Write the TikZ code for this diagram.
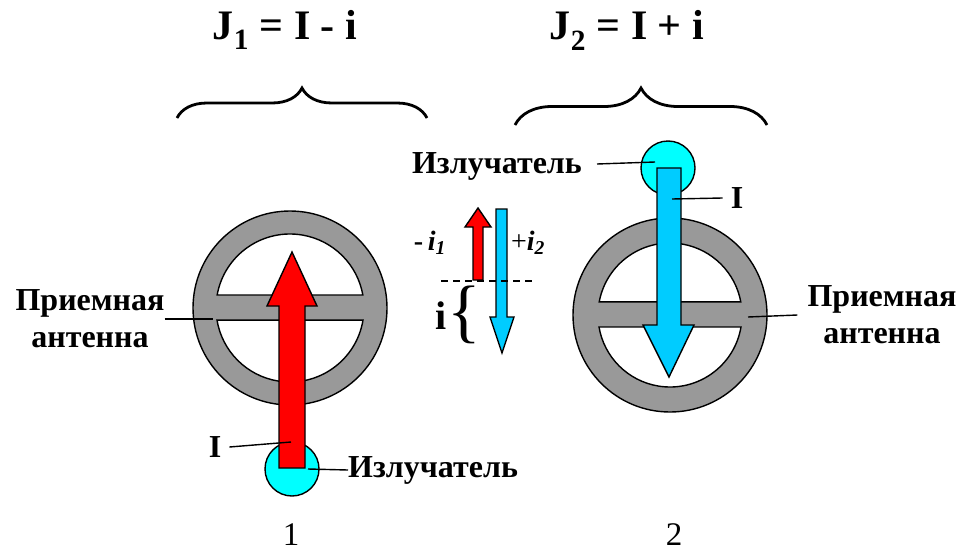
\documentclass[tikz,border=0pt]{standalone}
\usepackage{fontspec}
\setmainfont{Liberation Serif}
\usetikzlibrary{decorations.pathreplacing}
\definecolor{ringgray}{RGB}{153,153,153}
\definecolor{emitcyan}{RGB}{0,255,255}
\definecolor{flowblue}{RGB}{0,204,255}
\definecolor{flowred}{RGB}{255,0,0}
\tikzset{
  lbl/.style={font=\fontsize{32}{37}\selectfont\bfseries, align=center, inner sep=0pt},
  ttl/.style={font=\fontsize{42}{46}\selectfont\bfseries, inner sep=0pt},
  num/.style={font=\fontsize{33}{37}\selectfont, inner sep=0pt},
  lead/.style={black, line width=1.4pt},
  outl/.style={draw=black, line width=1.4pt},
  topbrace/.style={decorate, decoration={brace, amplitude=#1}, line width=2.8pt},
}

\begin{document}
\begin{tikzpicture}[x=1pt, y=-1pt]
  \useasboundingbox (0,0) rectangle (965,554);

  % Titles and top braces
  \node[ttl] (t1) at (285,30) {J\textsubscript{1} = I - i};
  \node[ttl] (t2) at (627,30) {J\textsubscript{2} = I + i};
  \draw[topbrace=30] (177,118) -- (427,118);
  \draw[topbrace=37] (515,125) -- (767,125);

  % Figure 1: receiving antenna
  \fill[ringgray, outl] (290,308) circle[radius=97];
  \fill[white, outl] (290,308) ++(190.1:74) arc[start angle=190.1, end angle=349.9, radius=74] -- cycle;
  \fill[white, outl] (290,308) ++(9.4:74) arc[start angle=9.4, end angle=170.6, radius=74] -- cycle;
  % emitter and current arrow
  \fill[emitcyan, outl] (292,469) circle[radius=27];
  \fill[flowred, outl] (279,468) -- (279,306) -- (267,306) -- (292,252) -- (317,306)
    -- (305,306) -- (305,468) -- cycle;
  \coordinate (pI1) at (291,442);
  \coordinate (pE1) at (308,469);
  \coordinate (pA1) at (213,319);
  \node[lbl] (lI1) at (215,447) {I};
  \node[lbl, anchor=west] (lE1) at (348,470) {Излучатель};
  \node[lbl] (lA1) at (90,319) {Приемная\\антенна};
  \draw[lead] ([xshift=8pt]lI1.east) -- (pI1);
  \draw[lead] (pE1) -- (lE1.west);
  \draw[lead] (lA1.east) -- (pA1);

  % Figure 2: receiving antenna
  \fill[ringgray, outl] (670,315) circle[radius=97];
  \fill[white, outl] (670,315) ++(190.5:72) arc[start angle=190.5, end angle=349.5, radius=72] -- cycle;
  \fill[white, outl] (670,315) ++(9.6:72) arc[start angle=9.6, end angle=170.4, radius=72] -- cycle;
  % emitter and current arrow
  \fill[emitcyan, outl] (668,168) circle[radius=27];
  \fill[flowblue, outl] (657,168) -- (657,325) -- (643,325) -- (669,377) -- (694,325)
    -- (681,325) -- (681,168) -- cycle;
  \coordinate (pI2) at (672,199);
  \coordinate (pE2) at (655,162);
  \coordinate (pA2) at (748,317);
  \node[lbl] (lI2) at (737,198) {I};
  \node[lbl, anchor=east] (lE2) at (582,166) {Излучатель};
  \node[lbl] (lA2) at (882,315) {Приемная\\антенна};
  \draw[lead] ([xshift=-8pt]lI2.west) -- (pI2);
  \draw[lead] ([xshift=15pt]lE2.east) ++(0,-2) -- (pE2);
  \draw[lead] (pA2) -- ([xshift=-10pt]lA2.west);

  % Middle: difference of currents
  \fill[flowred, outl] (473,280) -- (473,227) -- (465,227) -- (478,208) -- (491,227)
    -- (483,227) -- (483,280) -- cycle;
  \fill[flowblue, outl] (496,209) -- (496,317) -- (490,317) -- (502,353) -- (514,317)
    -- (507,317) -- (507,209) -- cycle;
  \draw[black, line width=1.3pt, dash pattern=on 7pt off 5pt] (441,281) -- (533,281);
  \node[font=\fontsize{28}{32}\selectfont\bfseries, inner sep=0pt] (li1) at (430,243)
    {-\,\textit{i}\textsubscript{\textit{1}}};
  \node[font=\fontsize{28}{32}\selectfont, inner sep=0pt] (li2) at (528,243)
    {+\textbf{\textit{i}}\textsubscript{\textbf{\textit{2}}}};
  \node[font=\fontsize{40}{44}\selectfont\bfseries, inner sep=0pt] (li) at (441,316) {i};
  \node[font=\fontsize{70}{74}\selectfont, inner sep=0pt] (lbr) at (464,315) {\{};

  % Captions
  \node[num] (n1) at (291,535) {1};
  \node[num] (n2) at (674,535) {2};
\end{tikzpicture}
\end{document}
